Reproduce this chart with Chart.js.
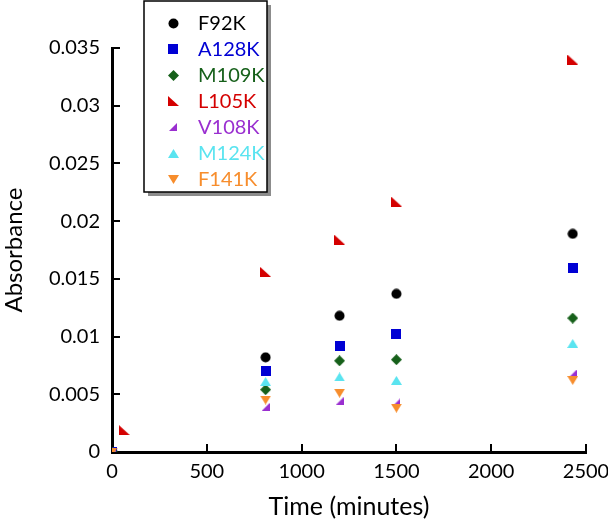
<!DOCTYPE html>
<html>
<head>
<meta charset="utf-8">
<script src="https://cdn.jsdelivr.net/npm/chart.js@4/dist/chart.umd.min.js"></script>
<style>
  html, body { margin:0; padding:0; background:#fff; }
  #wrap { position:relative; width:608px; height:524px; }
</style>
</head>
<body>
<div id="wrap"><canvas id="absChart"></canvas></div>
<script>
// sampling times (minutes)
const times = [0, 810, 1200, 1500, 2430];
const timesL105K = [0, 65, 810, 1200, 1500, 2430];

// absorbance per mutant
const seriesNames = ['F92K', 'A128K', 'M109K', 'L105K', 'V108K', 'M124K', 'F141K'];
const F92K  = [0, 0.0082, 0.0118, 0.0137, 0.0189];
const A128K = [0, 0.0070, 0.0092, 0.0102, 0.0159];
const M109K = [0, 0.0054, 0.0079, 0.0080, 0.0116];
const L105K = [0, 0.0019, 0.0156, 0.0184, 0.0217, 0.0340];
const V108K = [0, 0.0039, 0.0044, 0.0043, 0.0068];
const M124K = [0, 0.0061, 0.0065, 0.0062, 0.0094];
const F141K = [0, 0.0045, 0.0051, 0.0038, 0.0062];

const xTicks = [0, 500, 1000, 1500, 2000, 2500];
const yTicks = [0, 0.005, 0.01, 0.015, 0.02, 0.025, 0.03, 0.035];

const colors = ['#000000', '#0000d4', '#16601a', '#d40000', '#9a2fd0', '#5ae4f0', '#f78d2c'];
const shapes = ['circle', 'square', 'diamond', 'rtriLeft', 'rtriRight', 'triUp', 'triDown'];

const FONT = 'Lato, "Open Sans", sans-serif';

// small canvases used as point styles (and reused in the legend)
function makeMarker(shape, color){
  const c = document.createElement('canvas');
  let w = 11, h = 11;
  if (shape === 'square') { w = 10; h = 10; }
  if (shape === 'rtriLeft') { w = 11; h = 10; }
  if (shape === 'rtriRight') { w = 8; h = 8; }
  if (shape === 'triUp' || shape === 'triDown') { w = 11; h = 9; }
  c.width = w; c.height = h;
  const g = c.getContext('2d');
  g.fillStyle = color;
  g.beginPath();
  if (shape === 'circle') {
    g.arc(w/2, h/2, 5, 0, Math.PI*2);
  } else if (shape === 'square') {
    g.rect(0, 0, w, h);
  } else if (shape === 'diamond') {
    g.moveTo(w/2, 0); g.lineTo(w, h/2); g.lineTo(w/2, h); g.lineTo(0, h/2);
  } else if (shape === 'rtriLeft') {
    g.moveTo(0, 0); g.lineTo(0, h); g.lineTo(w, h);
  } else if (shape === 'rtriRight') {
    g.moveTo(w, 0); g.lineTo(w, h); g.lineTo(0, h);
  } else if (shape === 'triUp') {
    g.moveTo(w/2, 0); g.lineTo(w, h); g.lineTo(0, h);
  } else if (shape === 'triDown') {
    g.moveTo(0, 0); g.lineTo(w, 0); g.lineTo(w/2, h);
  }
  g.closePath();
  g.fill();
  return c;
}
const markers = shapes.map((s, i) => makeMarker(s, colors[i]));

const seriesValues = [F92K, A128K, M109K, L105K, V108K, M124K, F141K];
const datasets = seriesNames.map((name, i) => {
  const xs = name === 'L105K' ? timesL105K : times;
  return {
    label: name,
    data: seriesValues[i].map((v, k) => ({ x: xs[k], y: v })),
    pointStyle: markers[i],
    pointRadius: 6,
    showLine: false,
    order: seriesNames.length - i // later series on top
  };
});

// inward tick marks, drawn from the scales
const innerTicks = {
  id: 'innerTicks',
  beforeDatasetsDraw(chart){
    const { ctx, chartArea, scales: { x, y } } = chart;
    ctx.save();
    ctx.strokeStyle = '#000';
    ctx.lineWidth = 2;
    yTicks.forEach(v => {
      const py = Math.round(y.getPixelForValue(v));
      ctx.beginPath(); ctx.moveTo(chartArea.left, py); ctx.lineTo(chartArea.left + 8, py); ctx.stroke();
    });
    xTicks.forEach(v => {
      const px = Math.round(x.getPixelForValue(v));
      ctx.beginPath(); ctx.moveTo(px, chartArea.bottom); ctx.lineTo(px, chartArea.bottom - 8); ctx.stroke();
    });
    ctx.restore();
  }
};

// boxed legend with shadow, text coloured like the markers
const boxLegend = {
  id: 'boxLegend',
  afterDraw(chart){
    const ctx = chart.ctx;
    const bx = 144, by = 1, bw = 123, bh = 191;
    ctx.save();
    ctx.fillStyle = '#8c8c8c';
    ctx.fillRect(bx + 4, by + 4, bw, bh);
    ctx.fillStyle = '#fff';
    ctx.fillRect(bx, by, bw, bh);
    ctx.strokeStyle = '#000';
    ctx.lineWidth = 1.5;
    ctx.strokeRect(bx, by, bw, bh);
    ctx.font = '20px ' + FONT;
    ctx.textBaseline = 'middle';
    seriesNames.forEach((name, i) => {
      const cy = 23 + i * 26;
      const m = markers[i];
      ctx.drawImage(m, Math.round(173 - m.width/2), Math.round(cy - m.height/2));
      ctx.fillStyle = colors[i];
      ctx.fillText(name, 198, cy + 1);
    });
    ctx.restore();
  }
};

new Chart(document.getElementById('absChart'), {
  type: 'scatter',
  data: { datasets },
  options: {
    responsive: true,
    maintainAspectRatio: false,
    animation: false,
    layout: { padding: { left: 0, top: 48, right: 22, bottom: 0 } },
    plugins: { legend: { display: false }, tooltip: { enabled: false } },
    scales: {
      x: {
        type: 'linear',
        min: 0, max: 2500,
        afterBuildTicks: s => { s.ticks = xTicks.map(v => ({ value: v })); },
        afterFit: s => { s.height = 72; s.paddingLeft = 0; s.paddingRight = 0; },
        grid: { display: false, drawTicks: false },
        border: { display: true, color: '#000', width: 3 },
        ticks: { color: '#000', padding: 8, maxRotation: 0, font: { family: FONT, size: 20 },
          callback: v => String(v) },
        title: { display: true, text: 'Time (minutes)', color: '#000', padding: { top: 0, bottom: 2 }, font: { family: FONT, size: 25 } }
      },
      y: {
        type: 'linear',
        min: 0, max: 0.035,
        afterBuildTicks: s => { s.ticks = yTicks.map(v => ({ value: v })); },
        afterFit: s => { s.width = 112; s.paddingTop = 0; s.paddingBottom = 0; },
        grid: { display: false, drawTicks: false },
        border: { display: true, color: '#000', width: 3 },
        ticks: {
          color: '#000', padding: 12, font: { family: FONT, size: 20 },
          callback: v => String(+v.toFixed(3))
        },
        title: { display: true, text: 'Absorbance', color: '#000', padding: { top: 0, bottom: 0 }, font: { family: FONT, size: 24 } }
      }
    }
  },
  plugins: [innerTicks, boxLegend]
});
</script>
</body>
</html>
